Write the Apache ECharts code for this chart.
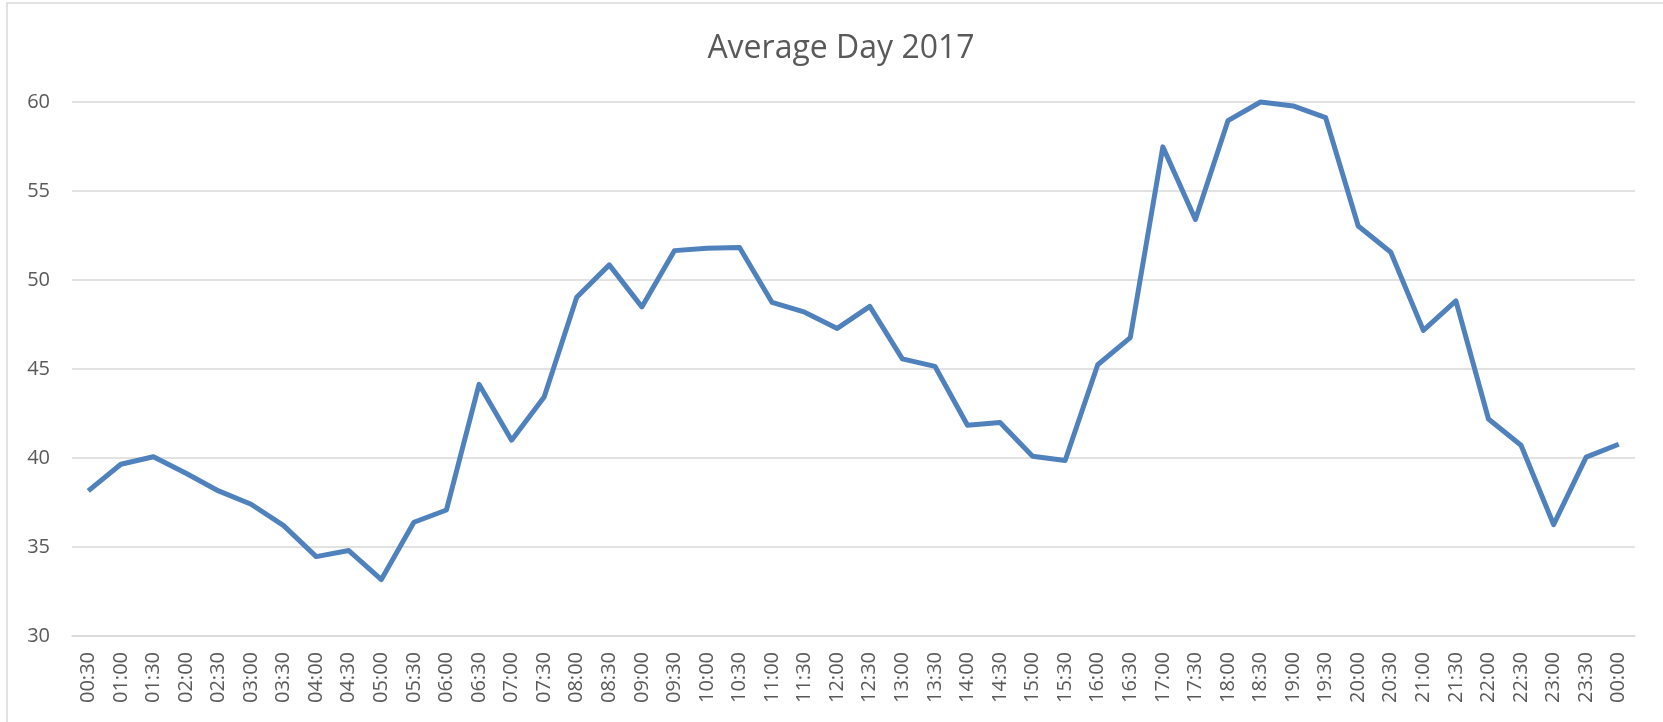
<!DOCTYPE html>
<html>
<head>
<meta charset="utf-8">
<title>Average Day 2017</title>
<script src="https://cdn.jsdelivr.net/npm/echarts@6/dist/echarts.min.js"></script>
<style>
  html, body { margin: 0; padding: 0; background: #fff; }
  #chart { width: 1663px; height: 722px; }
</style>
</head>
<body>
<div id="chart"></div>
<script>
// half-hour slots
const times = [
  "00:30", "01:00", "01:30", "02:00", "02:30", "03:00", "03:30", "04:00",
  "04:30", "05:00", "05:30", "06:00", "06:30", "07:00", "07:30", "08:00",
  "08:30", "09:00", "09:30", "10:00", "10:30", "11:00", "11:30", "12:00",
  "12:30", "13:00", "13:30", "14:00", "14:30", "15:00", "15:30", "16:00",
  "16:30", "17:00", "17:30", "18:00", "18:30", "19:00", "19:30", "20:00",
  "20:30", "21:00", "21:30", "22:00", "22:30", "23:00", "23:30", "00:00"
];

const avgValues = [
  38.15, 39.65, 40.07, 39.14, 38.15, 37.4, 36.2, 34.46,
  34.8, 33.17, 36.39, 37.08, 44.14, 41.0, 43.43, 49.03,
  50.85, 48.49, 51.65, 51.79, 51.83, 48.74, 48.19, 47.28,
  48.52, 45.57, 45.15, 41.84, 42.0, 40.1, 39.86, 45.24,
  46.76, 57.48, 53.4, 58.95, 60.0, 59.78, 59.12, 53.03,
  51.56, 47.17, 48.83, 42.19, 40.72, 36.26, 40.05, 40.77
];

const yMin = 30;
const yMax = 60;
const yStep = 5;

const chart = echarts.init(document.getElementById("chart"));

chart.setOption({
  backgroundColor: "#fff",
  animation: false,
  textStyle: { fontFamily: "Open Sans" },
  title: {
    text: "Average Day 2017",
    left: 836,
    textAlign: "center",
    top: 28,
    textStyle: {
      fontFamily: "Open Sans",
      fontSize: 32,
      fontWeight: "normal",
      color: "#595959",
    },
  },
  // chart area border (left and top edges visible)
  graphic: [
    {
      type: "rect",
      silent: true,
      shape: { x: 7, y: 3, width: 1800, height: 900 },
      style: { fill: "none", stroke: "#D9D9D9", lineWidth: 1.5 },
    },
  ],
  grid: {
    left: 72,
    right: 28,
    top: 102,
    bottom: 86,
  },
  xAxis: {
    type: "category",
    data: times,
    boundaryGap: true,
    axisLine: { show: true, lineStyle: { color: "#D9D9D9", width: 1.5 } },
    axisTick: { show: false },
    axisLabel: {
      rotate: 90,
      interval: 0,
      margin: 16,
      fontSize: 20,
      fontFamily: "Open Sans",
      color: "#595959",
    },
  },
  yAxis: {
    type: "value",
    min: yMin,
    max: yMax,
    interval: yStep,
    axisLine: { show: false },
    axisTick: { show: false },
    splitLine: { lineStyle: { color: "#D9D9D9", width: 1.5 } },
    axisLabel: {
      margin: 22,
      fontSize: 20,
      fontFamily: "Open Sans",
      color: "#595959",
    },
  },
  series: [
    {
      type: "line",
      data: avgValues,
      showSymbol: false,
      smooth: false,
      clip: false,
      lineStyle: { color: "#4F81BD", width: 5, join: "round" },
      itemStyle: { color: "#4F81BD" },
    },
  ],
});
</script>
</body>
</html>
